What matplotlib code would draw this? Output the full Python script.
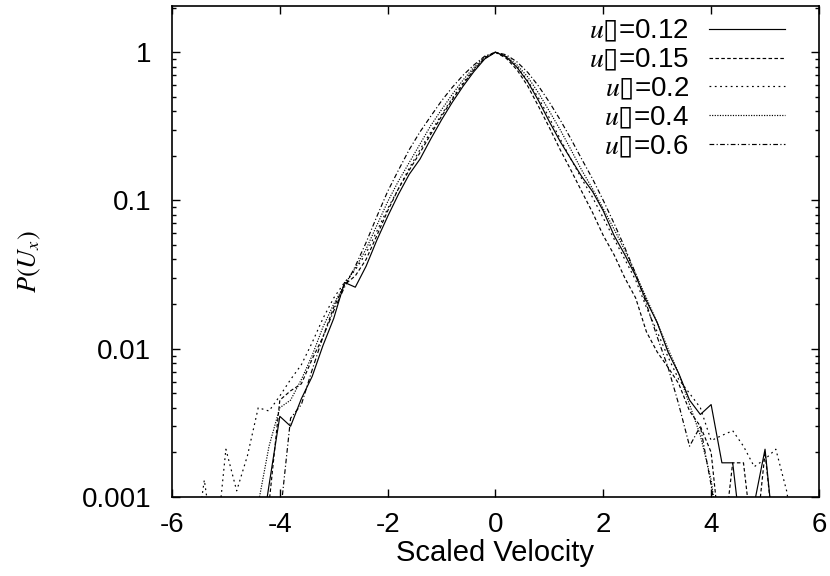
import numpy as np
import matplotlib
matplotlib.use("Agg")
import matplotlib.pyplot as plt
import matplotlib.ticker as mticker

plt.rcParams["font.family"] = ["Liberation Sans", "DejaVu Sans"]
plt.rcParams["mathtext.fontset"] = "custom"
plt.rcParams["mathtext.rm"] = "STIXGeneral"
plt.rcParams["mathtext.it"] = "STIXGeneral:italic"
plt.rcParams["mathtext.sf"] = "DejaVu Sans"

# velocity grid (step 0.2) and the five measured distributions
x = np.round(np.arange(-5.6, 5.61, 0.2), 1)
lo = 4e-4  # below the axis floor

p012 = [lo, lo, lo, lo, lo, lo, lo, 0.0012, 0.0035, 0.0030, 0.0046, 0.0065, 0.0105, 0.016,
        0.028, 0.026, 0.036, 0.054, 0.078, 0.11, 0.15, 0.19, 0.26, 0.35, 0.46, 0.59, 0.74, 0.90,
        1.0,
        0.93, 0.79, 0.63, 0.47, 0.34, 0.25, 0.19, 0.145, 0.115, 0.085, 0.058, 0.043, 0.031, 0.021,
        0.015, 0.0095, 0.0068, 0.0045, 0.0036, 0.0042, 0.0017, 0.0017, lo, 0.0009, 0.0021, lo, lo, lo]
p015 = [lo, lo, lo, lo, lo, lo, lo, 0.0009, 0.0045, 0.0052, 0.0058, 0.0085, 0.012, 0.019,
        0.027, 0.031, 0.040, 0.058, 0.085, 0.12, 0.16, 0.21, 0.28, 0.37, 0.48, 0.61, 0.76, 0.91,
        1.0,
        0.91, 0.76, 0.59, 0.43, 0.31, 0.22, 0.16, 0.115, 0.083, 0.058, 0.043, 0.030, 0.022, 0.013,
        0.0095, 0.0075, 0.0058, 0.0038, 0.0030, 0.0020, lo, 0.0017, 0.0017, lo, 0.0020, lo, lo, lo]
p02 = [lo, 0.0013, lo, 0.0021, 0.0011, 0.0019, 0.0040, 0.0038, 0.0048, 0.0062, 0.0078, 0.011, 0.016, 0.022,
       0.028, 0.034, 0.044, 0.062, 0.088, 0.12, 0.165, 0.22, 0.29, 0.38, 0.49, 0.62, 0.77, 0.92,
       1.0,
       0.93, 0.80, 0.64, 0.49, 0.36, 0.26, 0.19, 0.14, 0.105, 0.076, 0.055, 0.040, 0.029, 0.019,
       0.013, 0.0088, 0.0062, 0.0050, 0.0040, 0.0024, 0.0026, 0.0028, 0.0022, 0.0016, 0.0018, 0.0021, 0.0011, lo]
p04 = [lo, lo, lo, lo, lo, lo, 0.0009, 0.0022, 0.0040, 0.0045, 0.0062, 0.0090, 0.014, 0.020,
       0.027, 0.035, 0.047, 0.068, 0.098, 0.135, 0.18, 0.24, 0.32, 0.41, 0.52, 0.65, 0.79, 0.93,
       1.0,
       0.94, 0.82, 0.68, 0.53, 0.40, 0.30, 0.22, 0.16, 0.12, 0.088, 0.064, 0.046, 0.032, 0.022,
       0.015, 0.010, 0.0068, 0.0042, 0.0026, 0.0013, lo, lo, lo, lo, lo, lo, lo, lo]
p06 = [lo, lo, lo, lo, lo, lo, lo, lo, 0.0007, 0.0034, 0.0042, 0.0072, 0.012, 0.018,
       0.026, 0.036, 0.052, 0.078, 0.115, 0.16, 0.22, 0.29, 0.37, 0.47, 0.58, 0.70, 0.82, 0.94,
       1.0,
       0.96, 0.86, 0.73, 0.59, 0.46, 0.35, 0.26, 0.19, 0.14, 0.10, 0.070, 0.048, 0.032, 0.020,
       0.012, 0.0075, 0.0042, 0.0022, 0.0030, 0.0012, lo, lo, lo, lo, lo, lo, lo, lo]

labels = ["0.12", "0.15", "0.2", "0.4", "0.6"]
series = [p012, p015, p02, p04, p06]
dash_styles = ["-", (0, (3, 2)), (0, (1.5, 3)), (0, (1, 1.2)), (0, (4, 2, 1, 2))]

fig = plt.figure(figsize=(8.3, 5.76), dpi=100)
ax = fig.add_axes([0.2072, 0.1372, 0.7795, 0.8524])

for lab, p, ls in zip(labels, series, dash_styles):
    ax.plot(x, p, color="black", linewidth=0.85, linestyle=ls,
            label="$u\\mathsf{\u25af}$=" + lab)

ax.set_yscale("log")
ax.set_xlim(-6, 6)
ax.set_ylim(0.001, 2.05)
ax.set_xticks([-6, -4, -2, 0, 2, 4, 6])
ax.set_xticklabels(["-6", "-4", "-2", "0", "2", "4", "6"])
ax.set_yticks([0.001, 0.01, 0.1, 1])
ax.set_yticklabels(["0.001", "0.01", "0.1", "1"])
ax.yaxis.set_minor_locator(mticker.LogLocator(base=10, subs=np.arange(2, 10)))
ax.yaxis.set_minor_formatter(mticker.NullFormatter())

ax.tick_params(which="both", direction="in", top=True, right=True, labelsize=20, width=1)
ax.tick_params(which="major", length=5.5)
ax.tick_params(which="minor", length=3)
ax.tick_params(axis="y", pad=15)
ax.tick_params(axis="x", pad=11)
for s in ax.spines.values():
    s.set_linewidth(1.2)

ax.set_xlabel("Scaled Velocity", fontsize=21)
ax.xaxis.set_label_coords(0.5, -0.085)
ax.set_ylabel(r"$P(U_x)$", fontsize=19)
ax.yaxis.set_label_coords(-0.199, 0.48)

ax.legend(loc="upper right", bbox_to_anchor=(0.9474, 0.975), markerfirst=False,
          frameon=False, fontsize=20, handlelength=2.75, handletextpad=0.7,
          labelspacing=0.1, borderpad=0, borderaxespad=0)

fig.savefig("out.png", dpi=100)
